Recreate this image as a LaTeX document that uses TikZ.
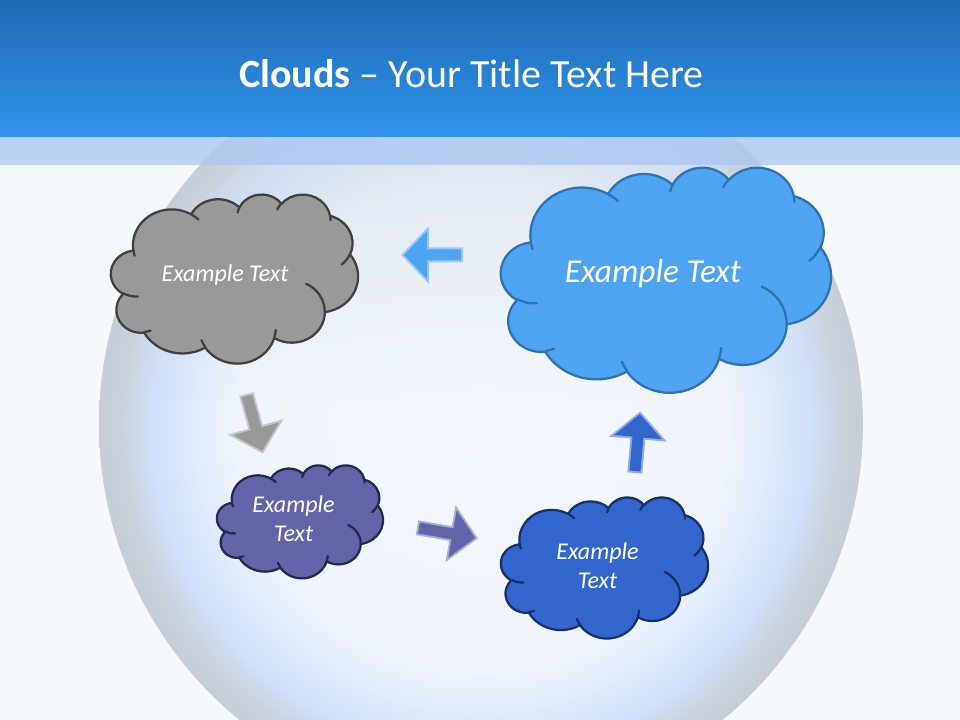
\documentclass[tikz,border=0pt]{standalone}
\usepackage{fontspec}
\setmainfont{Carlito}
\usetikzlibrary{fadings}
\definecolor{bgc}{HTML}{F4F9FE}
\definecolor{hdrtop}{HTML}{1F68B2}
\definecolor{hdrbot}{HTML}{3095EC}
\definecolor{bandc}{HTML}{ADC8F3}
\definecolor{sph0}{HTML}{F4F8FE}
\definecolor{sph1}{HTML}{F0F5FD}
\definecolor{sph2}{HTML}{CFE0FA}
\definecolor{sph3}{HTML}{CBD3DE}
\definecolor{sph4}{HTML}{C6CDD7}
\definecolor{topgray}{HTML}{D3DBE5}
\definecolor{grayfill}{HTML}{999999}
\definecolor{graydraw}{HTML}{404040}
\definecolor{lbfill}{HTML}{4FA4F1}
\definecolor{lbdraw}{HTML}{2E72B3}
\definecolor{pufill}{HTML}{6264A7}
\definecolor{pudraw}{HTML}{262750}
\definecolor{dbfill}{HTML}{3366CC}
\definecolor{dbdraw}{HTML}{172F6B}
\pgfdeclareradialshading{sphereshade}{\pgfpoint{0bp}{0bp}}{color(0bp)=(sph0); color(16bp)=(sph1); color(21.6bp)=(sph2); color(23.4bp)=(sph3); color(25bp)=(sph4); color(50bp)=(sph4)}
\tikzset{
  ooarc/.style n args={4}{insert path={arc[start angle={atan2((#1)*sin(#3),(#2)*cos(#3))}, delta angle={Mod(atan2((#1)*sin((#3)+(#4)),(#2)*cos((#3)+(#4)))-atan2((#1)*sin(#3),(#2)*cos(#3)),360)}, x radius=#1, y radius=#2]}},
  cloudline/.style={line width=1.7pt, line join=round, line cap=round},
  ctext/.style={text=white, font=\fontsize{18}{21.5}\selectfont\itshape, align=center, inner sep=0pt},
  arrowbox/.style={line width=3pt, line join=miter, draw opacity=0.5},
}
\newcommand\cloudshape[6]{%
  \begin{scope}[shift={(#1,#2)}, xscale=#3/43.2, yscale=#4/43.2]
    \filldraw[cloudline, fill=#5, draw=#6] (3.900,14.370)
      [ooarc={6.753}{9.190}{-190.48748}{123.78053}]
      [ooarc={5.333}{7.267}{-144.10238}{89.94523}]
      [ooarc={4.365}{5.945}{-145.80792}{99.72302}]
      [ooarc={4.857}{6.595}{-130.98607}{117.24173}]
      [ooarc={5.333}{7.273}{-78.70888}{109.02692}]
      [ooarc={6.775}{9.220}{-46.26725}{130.269}]
      [ooarc={5.785}{7.867}{0.62502}{114.03333}]
      [ooarc={6.752}{9.215}{22.4516}{115.17255}]
      [ooarc={7.720}{10.543}{66.24263}{75.71102}]
      [ooarc={4.360}{5.918}{-274.94208}{146.73557}]
      [ooarc={4.345}{5.945}{-246.8285}{152.51822}]
      -- cycle;
    \draw[cloudline, draw=#6]
      (4.693,26.177) [ooarc={4.345}{5.945}{86.742}{26.4295}]
      (6.928,34.899) [ooarc={4.360}{5.918}{73.61047}{11.44747}]
      (16.478,39.090) [ooarc={6.752}{9.215}{137.62415}{14.0811}]
      (28.827,34.751) [ooarc={6.752}{9.215}{6.45327}{15.99835}]
      (34.129,22.954) [ooarc={5.785}{7.867}{-70.29235}{70.91737}]
      (41.798,15.354) [ooarc={5.333}{7.273}{30.31803}{27.7515}]
      (38.324,5.426) [ooarc={4.857}{6.595}{-13.74433}{14.8589}]
      (29.078,3.952) [ooarc={4.857}{6.595}{-149.18145}{18.19537}]
      (22.141,4.720) [ooarc={4.365}{5.945}{-163.49427}{17.68635}]
      (14.000,5.192) [ooarc={6.753}{9.190}{-66.70695}{12.31935}]
      (4.127,15.789) [ooarc={6.753}{9.190}{157.65435}{11.85817}];
  \end{scope}}
\newcommand\blockarrow[4]{%
  \begin{scope}[shift={(#1,#2)}, rotate=#3]
    \filldraw[arrowbox, fill=#4, draw=#4] (0,-5.5) -- (34,-5.5) -- (34,-24) -- (57,0) -- (34,24) -- (34,5.5) -- (0,5.5) -- cycle;
  \end{scope}}
\begin{document}
\begin{tikzpicture}[x=0.75pt, y=-0.75pt]
  \useasboundingbox (0,0) rectangle (960,720);
  \fill[bgc] (0,0) rectangle (960,720);
  % sphere
  \coordinate (sc) at (481,424);
  \shade[shading=sphereshade] (sc) circle[radius=382];
  \begin{scope}
    \clip (sc) circle[radius=352];
    \fill[topgray, path fading=south, fill opacity=0.7] (99,42) rectangle (863,400);
  \end{scope}
  % band and header
  \fill[bandc, fill opacity=0.8] (0,137) rectangle (960,165);
  \shade[top color=hdrtop, bottom color=hdrbot] (0,0) rectangle (960,137);
  \node[text=white, font=\fontsize{30}{36}\selectfont, anchor=base, inner sep=0pt] (title) at (471.5,88) {\textbf{Clouds} -- Your Title Text Here};
  % clouds
  \cloudshape{111}{194}{247}{169}{grayfill}{graydraw}
  \cloudshape{501}{167}{330}{225}{lbfill}{lbdraw}
  \cloudshape{217}{465}{166}{113}{pufill}{pudraw}
  \cloudshape{501}{497}{207}{141}{dbfill}{dbdraw}
  % texts
  \node[ctext] (tgray) at (225,275) {Example Text};
  \node[ctext, font=\fontsize{25}{30}\selectfont\itshape] (tbig) at (653,274) {Example Text};
  \node[ctext] (tpurple) at (293.5,519) {Example\\Text};
  \node[ctext] (tblue) at (597.5,566) {Example\\Text};
  % arrows
  \blockarrow{461}{255}{180}{lbfill}
  \blockarrow{247}{396}{-74.6}{grayfill}
  \blockarrow{419}{528}{-10}{pufill}
  \blockarrow{635}{471}{85}{dbfill}
\end{tikzpicture}
\end{document}
